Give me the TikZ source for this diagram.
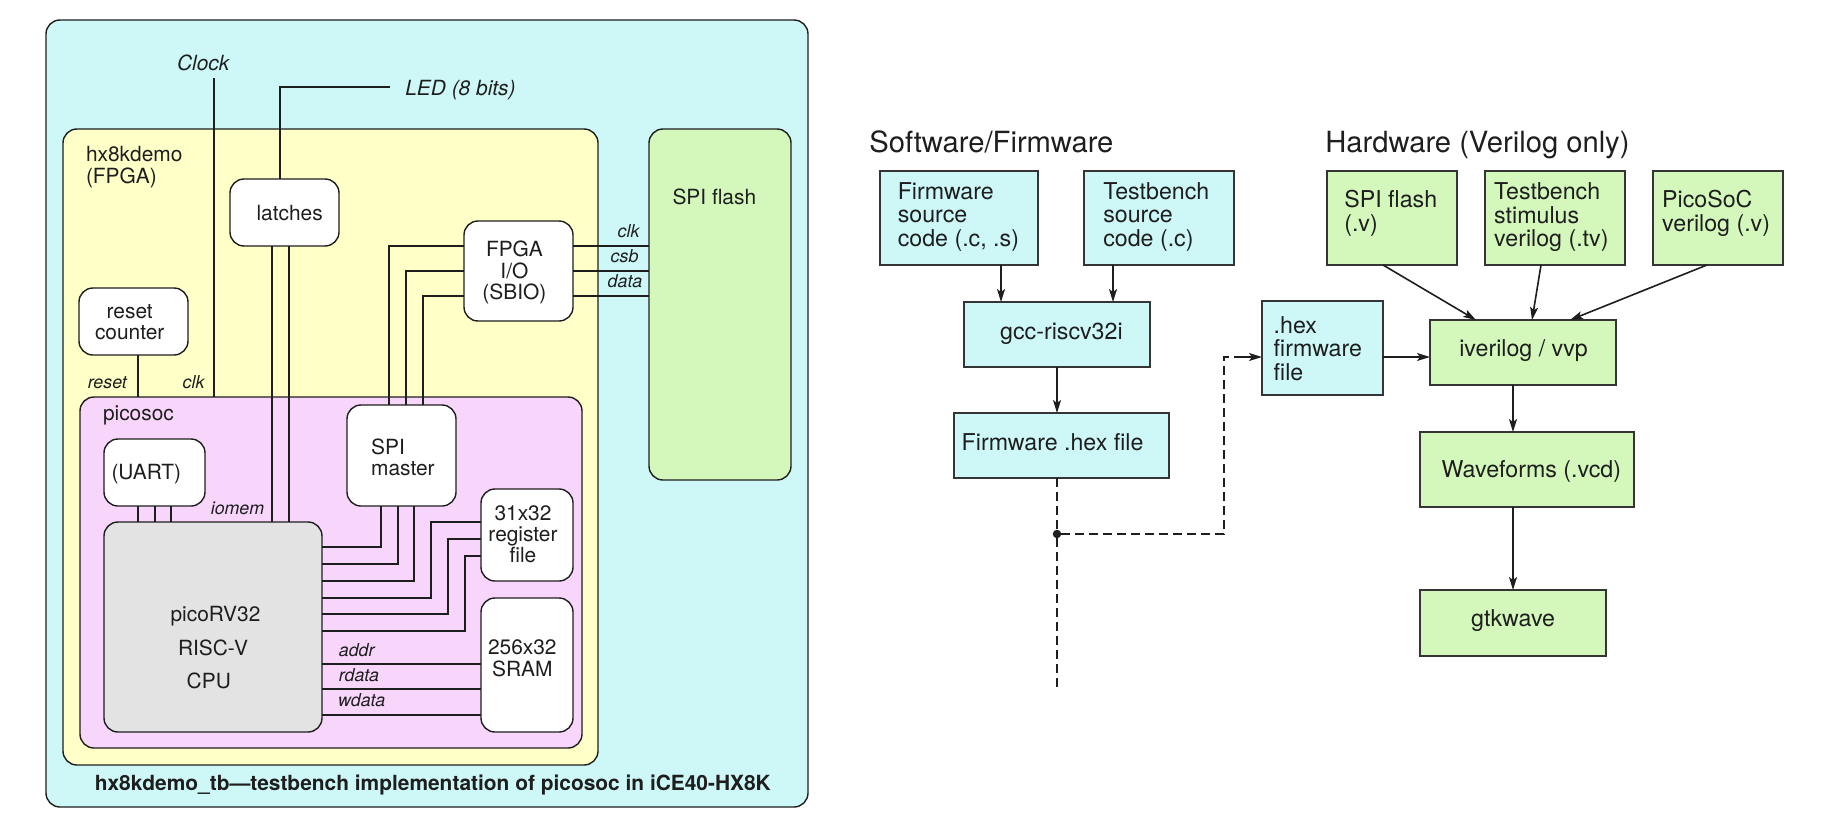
\documentclass[tikz,border=0pt]{standalone}
\usepackage{fontspec}
\setmainfont{TeX Gyre Heros}
\usetikzlibrary{arrows.meta}
\definecolor{cy}{RGB}{206,248,248}
\definecolor{ye}{RGB}{255,255,200}
\definecolor{pk}{RGB}{248,214,252}
\definecolor{gr}{RGB}{212,248,188}
\definecolor{gy}{RGB}{227,227,227}
\definecolor{ink}{RGB}{30,30,30}
\newcommand\bx[6]{\node[#6,minimum width={(round(#4)-round(#2))*1pt},minimum height={(round(#5)-round(#3))*1pt}] (#1) at ({(round(#2)+round(#4))/2},{(round(#3)+round(#5))/2}) {};}
\newcommand\tl[5]{\node[#2,anchor=base west] (#1) at (#3,#4) {\begin{tabular}[t]{@{}l@{}}#5\end{tabular}};}
\newcommand\tc[5]{\node[#2,anchor=base] (#1) at (#3,#4) {\begin{tabular}[t]{@{}c@{}}#5\end{tabular}};}
\tikzset{
  rbox/.style={draw=ink,line width=1.4pt,rounded corners=14pt,inner sep=0pt,outer sep=0pt},
  sbox/.style={draw=ink!90,line width=1.8pt,inner sep=0pt,outer sep=0pt},
  wire/.style={draw=ink,line width=1.4pt},
  arr/.style={draw=ink,line width=1.6pt,-{Stealth[length=13pt,width=8pt,inset=3pt]}},
  dsh/.style={draw=ink,line width=1.3pt,dash pattern=on 9pt off 5pt},
  txt/.style={inner sep=0pt,outer sep=0pt,text=ink},
  lab/.style={txt,font=\fontsize{20.9}{20.7}\selectfont},
  ilab/.style={txt,font=\fontsize{20.9}{20.7}\selectfont\itshape},
  slab/.style={txt,font=\fontsize{17.8}{17.7}\selectfont\itshape},
  ttl/.style={txt,font=\fontsize{20.9}{20.7}\selectfont\bfseries},
  rlab/.style={txt,font=\fontsize{23.2}{23.2}\selectfont},
  head/.style={txt,font=\fontsize{29.2}{29.2}\selectfont},
}
\begin{document}
\begin{tikzpicture}[x=1pt,y=-1pt]
\useasboundingbox (0,0) rectangle (1834,835);
\begin{scope}[yshift=-1pt]
% --- left block
\bx{outer}{45.9}{19}{808.3}{805.7}{rbox,fill=cy}
\bx{fpga}{62.9}{127.7}{598.3}{764}{rbox,fill=ye}
\bx{soc}{79.5}{395.7}{581.7}{747.3}{rbox,fill=pk}
\bx{flash}{648.7}{127.7}{791.3}{479.3}{rbox,fill=gr}
\bx{latches}{230}{177.7}{339.3}{245.3}{rbox,fill=white}
\bx{sbio}{464.2}{219.7}{573.3}{320.3}{rbox,fill=white}
\bx{rst}{79}{286.7}{188.2}{354}{rbox,fill=white}
\bx{spim}{347.2}{404}{456.3}{504.7}{rbox,fill=white}
\bx{uart}{104.4}{437.7}{205.2}{504.7}{rbox,fill=white}
\bx{cpu}{104.4}{521}{322.3}{730.7}{rbox,fill=gy}
\bx{regs}{481.2}{487.7}{573.3}{580}{rbox,fill=white}
\bx{sram}{481.2}{596.7}{573.3}{730.7}{rbox,fill=white}
% free ends
\coordinate (clkend) at (214,77);
\coordinate (ledend) at (390,86);
% wires
\draw[wire] (clkend) -- (clkend |- soc.north);
\draw[wire] (ledend) -- (280,86) -- (280,0 |- latches.north);
\draw[wire] (138,0 |- rst.south) -- (138,0 |- soc.north);
\draw[wire] (272,0 |- latches.south) -- (272,0 |- cpu.north);
\draw[wire] (289,0 |- latches.south) -- (289,0 |- cpu.north);
\draw[wire] (sbio.west |- 0,245) -- (389,245) -- (389,0 |- spim.north);
\draw[wire] (sbio.west |- 0,270) -- (406,270) -- (406,0 |- spim.north);
\draw[wire] (sbio.west |- 0,295) -- (423,295) -- (423,0 |- spim.north);
\draw[wire] (sbio.east |- 0,245) -- (flash.west |- 0,245);
\draw[wire] (sbio.east |- 0,270) -- (flash.west |- 0,270);
\draw[wire] (sbio.east |- 0,295) -- (flash.west |- 0,295);
\draw[wire] (138,0 |- uart.south) -- (138,0 |- cpu.north);
\draw[wire] (155,0 |- uart.south) -- (155,0 |- cpu.north);
\draw[wire] (171,0 |- uart.south) -- (171,0 |- cpu.north);
\draw[wire] (cpu.east |- 0,546) -- (381,546) -- (381,0 |- spim.south);
\draw[wire] (cpu.east |- 0,563) -- (398,563) -- (398,0 |- spim.south);
\draw[wire] (cpu.east |- 0,580) -- (414,580) -- (414,0 |- spim.south);
\draw[wire] (cpu.east |- 0,597) -- (431,597) -- (431,521) -- (regs.west |- 0,521);
\draw[wire] (cpu.east |- 0,613) -- (448,613) -- (448,538) -- (regs.west |- 0,538);
\draw[wire] (cpu.east |- 0,630) -- (465,630) -- (465,555) -- (regs.west |- 0,555);
\draw[wire] (cpu.east |- 0,663) -- (sram.west |- 0,663);
\draw[wire] (cpu.east |- 0,688) -- (sram.west |- 0,688);
\draw[wire] (cpu.east |- 0,714) -- (sram.west |- 0,714);
% left text
\tl{tclock}{ilab}{177.1}{69.3}{Clock}
\tl{tled}{ilab}{405.3}{94.3}{LED (8 bits)}
\tl{tfpga}{lab}{86}{160.3}{hx8kdemo\\(FPGA)}
\tl{tlatches}{lab}{256.5}{219.3}{latches}
\tc{trst}{lab}{129.7}{317.3}{reset\\counter}
\tc{tsbio}{lab}{514.4}{255.3}{FPGA\\I/O\\(SBIO)}
\tl{tflash}{lab}{672.5}{203.8}{SPI flash}
\tl{treset}{slab}{87.8}{387.7}{reset}
\tl{tclk}{slab}{182.7}{387.7}{clk}
\tl{tsoc}{lab}{103}{419}{picosoc}
\tl{tuart}{lab}{111.5}{478.3}{(UART)}
\tl{tspim}{lab}{371.2}{453.3}{SPI\\master}
\tl{tiomem}{slab}{210.8}{513.3}{iomem}
\tc{tregs}{lab}{523}{519.3}{31x32\\register\\file}
\tc{tsram}{lab}{522.3}{653.3}{256x32\\SRAM}
\tc{tcpua}{lab}{215.5}{620.7}{picoRV32}
\tc{tcpub}{lab}{213}{654.7}{RISC-V}
\tc{tcpuc}{lab}{208.8}{687.3}{CPU}
\tl{taddr}{slab}{338.9}{655}{addr}
\tl{trdata}{slab}{338.9}{680.3}{rdata}
\tl{twdata}{slab}{338}{705.7}{wdata}
\tl{tclk2}{slab}{617.7}{236.7}{clk}
\tl{tcsb}{slab}{610.7}{261.7}{csb}
\tl{tdata}{slab}{607.7}{286.7}{data}
\tl{ttitle}{ttl}{94.8}{789}{hx8kdemo\_tb—testbench implementation of picosoc in iCE40-HX8K}
% --- software
\tl{tsw}{head}{869.3}{151}{Software/Firmware}
\bx{fw}{879.7}{169.7}{1038.3}{263.5}{sbox,fill=cy}
\bx{tb}{1084.3}{169.7}{1234}{263.5}{sbox,fill=cy}
\bx{gcc}{963.7}{300.6}{1150}{365.6}{sbox,fill=cy}
\bx{hex}{954.3}{412.3}{1168.7}{477.4}{sbox,fill=cy}
\tl{tfw}{rlab}{897.8}{198.4}{Firmware\\source\\code (.c, .s)}
\tl{ttb}{rlab}{1103.3}{198.4}{Testbench\\source\\code (.c)}
\tl{tgcc}{rlab}{1000.2}{338.9}{gcc-riscv32i}
\tl{thex}{rlab}{961.7}{449.8}{Firmware .hex file}
% --- hardware
\tl{thw}{head}{1325.3}{151}{Hardware (Verilog only)}
\bx{spiv}{1326.7}{170}{1457.4}{263.6}{sbox,fill=gr}
\bx{stim}{1485}{170}{1625}{263.6}{sbox,fill=gr}
\bx{psoc}{1652.6}{170}{1783.3}{263.6}{sbox,fill=gr}
\bx{hexf}{1262}{300.4}{1383}{393.9}{sbox,fill=cy}
\bx{iv}{1429.5}{318.9}{1615.7}{384.3}{sbox,fill=gr}
\bx{wave}{1420.2}{430.7}{1634.4}{505.7}{sbox,fill=gr}
\bx{gtk}{1420.2}{589.3}{1606.4}{654.6}{sbox,fill=gr}
\tl{tspiv}{rlab}{1344.3}{206.4}{SPI flash\\(.v)}
\tl{tstim}{rlab}{1494.2}{198.2}{Testbench\\stimulus\\verilog (.tv)}
\tl{tpsoc}{rlab}{1662.2}{206.4}{PicoSoC\\verilog (.v)}
\tl{thexf}{rlab}{1273.7}{332}{.hex\\firmware\\file}
\tl{tiv}{rlab}{1459.3}{355.7}{iverilog / vvp}
\tl{twave}{rlab}{1441.7}{476.8}{Waveforms (.vcd)}
\tl{tgtk}{rlab}{1471.2}{625.4}{gtkwave}
% arrows
\draw[arr] (1001,0 |- fw.south) -- (1001,0 |- gcc.north);
\draw[arr] (1113,0 |- tb.south) -- (1113,0 |- gcc.north);
\draw[arr] (1057,0 |- gcc.south) -- (1057,0 |- hex.north);
\node[circle,fill=ink,inner sep=0pt,minimum size=8.5pt] (jn) at (1057,533) {};
\coordinate (dashend) at (1057,688);
\draw[dsh] (1057,0 |- hex.south) -- (jn) -- (dashend);
\draw[dsh] (jn) -- (1224,533) -- (1224,356) -- (1248,356);
\draw[arr] (1240,356) -- (hexf.west |- 0,356);
\draw[arr] (hexf.east |- 0,356) -- (iv.west |- 0,356);
\draw[arr] (1383,0 |- spiv.south) -- (1476,0 |- iv.north);
\draw[arr] (1541,0 |- stim.south) -- (1532,0 |- iv.north);
\draw[arr] (1707,0 |- psoc.south) -- (1570,0 |- iv.north);
\draw[arr] (1513,0 |- iv.south) -- (1513,0 |- wave.north);
\draw[arr] (1513,0 |- wave.south) -- (1513,0 |- gtk.north);
\end{scope}
\end{tikzpicture}
\end{document}
